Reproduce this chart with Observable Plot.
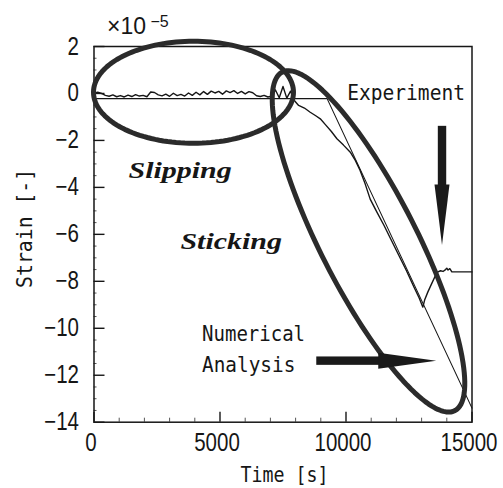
<!DOCTYPE html>
<html>
<head>
<meta charset="utf-8">
<script src="https://cdn.jsdelivr.net/npm/d3@7"></script>
<script src="https://cdn.jsdelivr.net/npm/@observablehq/plot@0.6"></script>
<style>
  html, body { margin: 0; padding: 0; background: #fff; }
  #chart svg { display: block; }
</style>
</head>
<body>
<div id="chart"></div>
<script>
// ---- data ----
const expTime = [0,150,300,450,600,750,900,1050,1200,1350,1500,1650,1800,1950,2100,2250,2400,2550,2700,2850,3000,3150,3300,3450,3600,3750,3900,4050,4200,4350,4500,4650,4800,4950,5100,5250,5400,5550,5700,5850,6000,6150,6300,6450,6600,6750,6900,7050,7200,7350,7500,7650,7800,7950,
  8120,8350,8580,8800,8980,9200,9420,9640,9900,10170,10370,10560,10760,10960,11200,11500,11800,12100,12400,12700,12900,13050,13120,13250,13400,13550,13650,13750,13850,13950,14000,14050,14120,14200,15000];
const expStrain = [0.02,0.05,0.0,-0.08,-0.12,-0.06,-0.14,-0.09,-0.15,-0.07,-0.13,-0.05,-0.11,-0.08,-0.14,0.06,0.04,-0.06,-0.1,-0.03,-0.12,0.01,-0.09,-0.04,-0.11,0.02,-0.08,0.05,-0.06,0.08,-0.04,0.1,0.02,0.09,-0.03,0.11,0.04,0.12,0.0,0.09,-0.02,0.08,0.03,-0.1,-0.13,-0.08,-0.15,-0.12,0.15,-0.18,0.3,-0.2,0.1,-0.3,
  -0.51,-0.62,-0.8,-0.95,-1.08,-1.35,-1.62,-1.93,-2.2,-2.5,-2.85,-3.28,-3.85,-4.5,-5.0,-5.6,-6.25,-6.9,-7.55,-8.25,-8.7,-9.1,-8.8,-8.45,-8.1,-7.75,-7.6,-7.55,-7.58,-7.5,-7.44,-7.52,-7.46,-7.6,-7.6];
const numTime = [0, 9250, 15000];
const numStrain = [-0.22, -0.22, -13.4];

const xTicks = [0, 5000, 10000, 15000];
const xMinor = [1000,2000,3000,4000,6000,7000,8000,9000,11000,12000,13000,14000];
const yTicks = [2, 0, -2, -4, -6, -8, -10, -12, -14];
const yMinor = d3.range(-14, 2.01, 0.5).filter(v => !yTicks.includes(v));

// ---- layout ----
const W = 503, H = 488, ML = 93.5, MR = 31.5, MT = 46, MB = 66.3;
const xDomain = [0, 15000], yDomain = [-14, 2];
const kx = (W - ML - MR) / (xDomain[1] - xDomain[0]);   // px per second
const ky = (H - MT - MB) / (yDomain[1] - yDomain[0]);   // px per strain unit

const expData = expTime.map((t, i) => ({t, s: expStrain[i]}));
const numData = numTime.map((t, i) => ({t, s: numStrain[i]}));

// ellipse annotations: centre in data units, semi-axes in px, rotation in degrees
function ellipse(ct, cs, a, b, deg, id) {
  const phi = deg * Math.PI / 180, pts = [];
  for (let i = 0; i <= 144; i++) {
    const th = i / 144 * 2 * Math.PI;
    const dx = a * Math.cos(th) * Math.cos(phi) - b * Math.sin(th) * Math.sin(phi);
    const dy = a * Math.cos(th) * Math.sin(phi) + b * Math.sin(th) * Math.cos(phi);
    pts.push({t: ct + dx / kx, s: cs - dy / ky, id});
  }
  return pts;
}
const ellipses = [...ellipse(3948, 0.05, 100, 51, 0, "slip"), ...ellipse(10893, -6.3, 190, 48, 63, "stick")];

const vArrowX = 13830, hArrowY = -11.4;
const fontMono = "'DejaVu Sans Mono', 'Liberation Mono', monospace";
const fontTick = "'Liberation Sans', Arial, sans-serif";
const fontSerif = "'Liberation Serif', 'Times New Roman', serif";
const ink = "#161616";

const chart = Plot.plot({
  width: W, height: H,
  marginLeft: ML, marginRight: MR, marginTop: MT, marginBottom: MB,
  x: {domain: xDomain},
  y: {domain: yDomain},
  style: {background: "#fff", color: ink, fontFamily: fontTick},
  marks: [
    // data
    Plot.line(numData, {x: "t", y: "s", stroke: ink, strokeWidth: 1.1}),
    Plot.line(expData, {x: "t", y: "s", stroke: ink, strokeWidth: 1.4}),
    // ticks (inward)
    Plot.ruleY(yTicks, {x1: 0, x2: 11 / kx, stroke: ink, strokeWidth: 1.4}),
    Plot.ruleY(yMinor, {x1: 0, x2: 3 / kx, stroke: "#555", strokeWidth: 1}),
    Plot.ruleX(xTicks, {y1: -14, y2: -14 + 10 / ky, stroke: ink, strokeWidth: 1.4}),
    Plot.ruleX(xMinor, {y1: -14, y2: -14 + 4 / ky, stroke: "#555", strokeWidth: 1}),
    Plot.frame({stroke: ink, strokeWidth: 1.5}),
    // axis labels
    Plot.axisY({ticks: yTicks, tickSize: 0, tickPadding: 15, fontSize: 25, fontFamily: fontTick, label: null}),
    Plot.axisX({ticks: xTicks, tickSize: 0, tickPadding: 11, dx: -3, fontSize: 25, fontFamily: fontTick, label: null, tickFormat: d => String(d)}),
    Plot.text(["Strain [-]"], {frameAnchor: "left", textAnchor: "middle", lineAnchor: "middle", rotate: -90, dx: -69.5, dy: -6, fontSize: 22, fontFamily: fontMono}),
    Plot.text(["Time [s]"], {frameAnchor: "bottom", textAnchor: "middle", lineAnchor: "middle", dx: 1.5, dy: 53.5, fontSize: 21, fontFamily: fontMono}),
    Plot.text(["×10"], {frameAnchor: "top-left", textAnchor: "start", lineAnchor: "middle", dx: 13, dy: -19.5, fontSize: 23, fontFamily: fontTick}),
    Plot.text(["−5"], {frameAnchor: "top-left", textAnchor: "start", lineAnchor: "middle", dx: 56.5, dy: -25, fontSize: 16, fontFamily: fontTick}),
    // ellipses
    Plot.line(ellipses, {x: "t", y: "s", z: "id", stroke: "#2b2b2b", strokeWidth: 5}),
    // vertical arrow
    Plot.rect([0], {x1: vArrowX - 4.2 / kx, x2: vArrowX + 4.2 / kx, y1: -1.4, y2: -4.0, fill: "#1a1a1a"}),
    Plot.areaX([{s: -3.9, a: vArrowX - 7.5 / kx, b: vArrowX + 7.5 / kx}, {s: -6.47, a: vArrowX, b: vArrowX}],
      {y: "s", x1: "a", x2: "b", fill: "#1a1a1a"}),
    // horizontal arrow
    Plot.rect([0], {x1: 8840, x2: 11400, y1: hArrowY - 4.2 / ky, y2: hArrowY + 4.2 / ky, fill: "#1a1a1a"}),
    Plot.areaY([{t: 11300, a: hArrowY - 8 / ky, b: hArrowY + 8 / ky}, {t: 13600, a: hArrowY, b: hArrowY}],
      {x: "t", y1: "a", y2: "b", fill: "#1a1a1a"}),
    // annotation text
    Plot.text(["Slipping"], {x: 1367, y: -3.26, textAnchor: "start", fontSize: 24, fontWeight: "bold", fontStyle: "italic", fontFamily: fontSerif}),
    Plot.text(["Sticking"], {x: 3428, y: -6.28, textAnchor: "start", fontSize: 24, fontWeight: "bold", fontStyle: "italic", fontFamily: fontSerif}),
    Plot.text(["Experiment"], {x: 10047, y: 0.02, textAnchor: "start", fontSize: 22, fontFamily: fontMono}),
    Plot.text(["Numerical"], {x: 4288, y: -10.26, textAnchor: "start", fontSize: 22, fontFamily: fontMono}),
    Plot.text(["Analysis"], {x: 4288, y: -11.57, textAnchor: "start", fontSize: 22, fontFamily: fontMono})
  ]
});
document.getElementById("chart").appendChild(chart);

// horizontal squeeze/stretch of text glyphs about their anchor point
const tickLabels = [...yTicks.map(d => d < 0 ? "−" + Math.abs(d) : String(d)), ...xTicks.map(String)];
const squeezeBy = {"Strain [-]": 0.9, "Time [s]": 0.87, "Experiment": 0.89, "Numerical": 0.865, "Analysis": 0.88, "Slipping": 1.25, "Sticking": 1.25};
tickLabels.forEach(l => { squeezeBy[l] = 0.82; });
chart.querySelectorAll("text").forEach(el => {
  const sx = squeezeBy[el.textContent.trim()];
  if (!sx) return;
  const tr = el.getAttribute("transform");
  if (tr) {
    el.setAttribute("transform", tr + ` scale(${sx},1)`);
  } else {
    const x = +(el.getAttribute("x") || 0), y = +(el.getAttribute("y") || 0);
    el.setAttribute("transform", `translate(${x},${y}) scale(${sx},1) translate(${-x},${-y})`);
  }
});
</script>
</body>
</html>
